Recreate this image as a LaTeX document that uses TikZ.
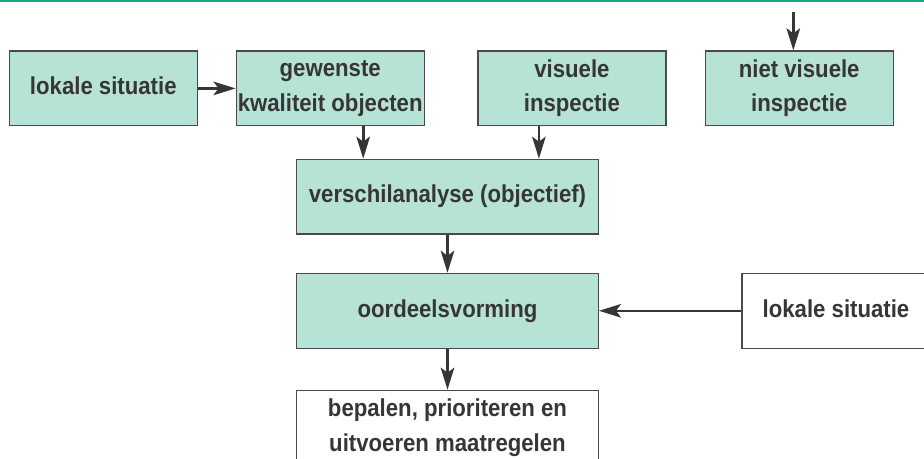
\documentclass[tikz,border=0pt]{standalone}
\usepackage{fontspec}
\setmainfont{Liberation Sans}[FakeStretch=0.905]
\usetikzlibrary{arrows.meta}
\definecolor{mint}{RGB}{183,226,214}
\definecolor{boxline}{RGB}{74,74,74}
\definecolor{ink}{RGB}{54,54,56}
\definecolor{teal}{RGB}{27,167,132}
\tikzset{
  box/.style={draw=boxline, line width=1.3pt, minimum width=188pt, minimum height=74.7pt,
    inner sep=0pt, text=ink, align=center,
    font=\fontsize{24.5}{34.4}\selectfont\bfseries},
  mintbox/.style={box, fill=mint},
  whitebox/.style={box, fill=white},
  wide/.style={minimum width=301.6pt},
  oneline/.style={text height=17.5pt, text depth=5pt},
  arr/.style={draw=ink, line width=2.6pt, -{Stealth[length=22pt,width=13.5pt,inset=5pt]}}
}
\begin{document}
\begin{tikzpicture}[x=1pt,y=-1pt]
\useasboundingbox (0,0) rectangle (924,458);
\clip (0,0) rectangle (924,458);
\fill[white] (0,0) rectangle (924,458);
\draw[teal, line width=1.8pt] (0,0.9) -- (924,0.9);

\node[mintbox, oneline] (A) at (103.3,88.4) {lokale situatie};
\node[mintbox] (B) at (330.2,88.4) {gewenste\\kwaliteit objecten};
\node[mintbox] (C) at (571.9,88.4) {visuele\\inspectie};
\node[mintbox] (D) at (799.2,88.4) {niet visuele\\inspectie};
\node[mintbox, wide, oneline] (E) at (447.5,196.7) {verschilanalyse (objectief)};
\node[mintbox, wide, oneline] (F) at (447.5,310.8) {oordeelsvorming};
\node[whitebox, oneline] (G) at (836,310.8) {lokale situatie};
\node[whitebox, wide] (H) at (447.5,427.7) {bepalen, prioriteren en\\uitvoeren maatregelen};

\coordinate (top) at (793.3,12);
\draw[arr] (top) -- (top |- D.north);
\draw[arr] (A.east) -- (B.west);
\draw[arr] ([xshift=33pt]B.south) -- ([xshift=33pt]B.south |- E.north);
\draw[arr] ([xshift=-33pt]C.south) -- ([xshift=-33pt]C.south |- E.north);
\draw[arr] (E.south) -- (F.north);
\draw[arr] (G.west) -- (F.east);
\draw[arr] (F.south) -- (H.north);
\end{tikzpicture}
\end{document}
